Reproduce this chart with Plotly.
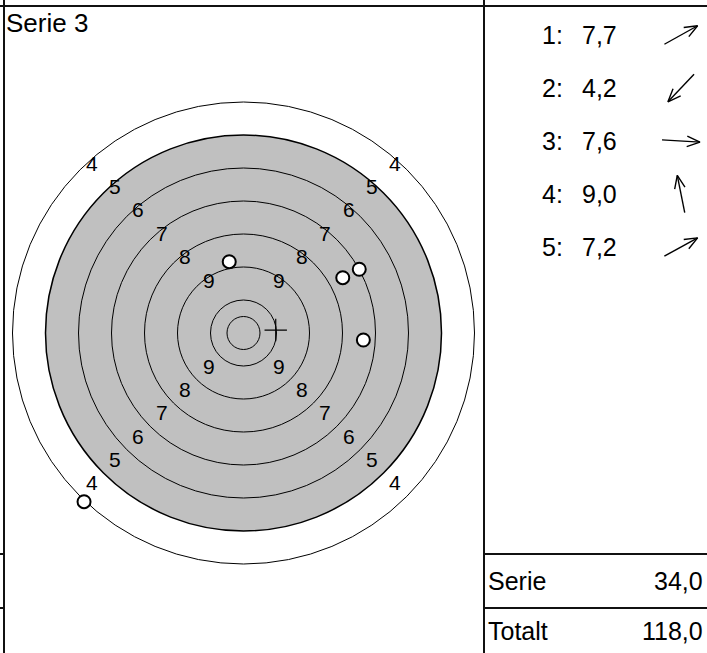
import math

import plotly.graph_objects as go

# ---- data -------------------------------------------------------------
SERIES_TITLE = "Serie 3"
SHOT_X = [75.2, -120.8, 90.8, -10.8, 87.7]   # mm, target centre = 0
SHOT_Y = [41.9, -127.8, -5.3, 54.0, 48.3]
SHOT_SCORES = ["7,7", "4,2", "7,6", "9,0", "7,2"]
RING_RADII = [175, 150, 125, 100, 75, 50, 25, 12.5]   # rings 4..10, inner ten
RING_LABELS = [4, 5, 6, 7, 8, 9]
BLACK_RADIUS = 150
SUMMARY_LABELS = ["Serie", "Totalt"]
SUMMARY_VALUES = ["34,0", "118,0"]

W, H = 707, 653
SCALE = 1.32            # px per mm
CX, CY = 243.5, 333     # target centre in px
FONT = "Liberation Sans, Arial, sans-serif"


def px(x):
    return x / W


def py(y):
    return 1 - y / H


fig = go.Figure()

# target rings
shapes = []
for r in RING_RADII:
    if r == RING_RADII[0]:
        fill = "white"
    elif r == BLACK_RADIUS:
        fill = "#c0c0c0"
    else:
        fill = "rgba(0,0,0,0)"
    shapes.append(dict(type="circle", xref="x", yref="y", x0=-r, x1=r, y0=-r, y1=r,
                       fillcolor=fill, line=dict(color="black",
                                                 width=1.5 if r == BLACK_RADIUS else 1),
                       layer="below"))

# table grid
line = dict(color="#111111", width=2)
shapes += [
    dict(type="line", xref="paper", yref="paper", x0=0, x1=1, y0=py(6), y1=py(6), line=line),
    dict(type="line", xref="paper", yref="paper", x0=px(4), x1=px(4), y0=0, y1=1, line=line),
    dict(type="line", xref="paper", yref="paper", x0=px(484), x1=px(484), y0=0, y1=1, line=line),
]
for yy in (554, 608):
    shapes.append(dict(type="line", xref="paper", yref="paper", x0=0, x1=px(4),
                       y0=py(yy), y1=py(yy), line=line))
    shapes.append(dict(type="line", xref="paper", yref="paper", x0=px(484), x1=1,
                       y0=py(yy), y1=py(yy), line=line))

annotations = []
# ring numbers on the diagonals
for k in RING_LABELS:
    idx = k - 4
    mid = (RING_RADII[idx] + RING_RADII[idx + 1]) / 2
    d = mid / math.sqrt(2)
    for sx in (-1, 1):
        for sy in (-1, 1):
            annotations.append(dict(x=sx * d, y=sy * d, xref="x", yref="y", text=str(k),
                                    showarrow=False, yshift=18 if sy > 0 else 2,
                                    font=dict(size=21, color="black", family=FONT)))

annotations.append(dict(x=px(4), y=py(23), xref="paper", yref="paper", text=SERIES_TITLE,
                        xanchor="left", yanchor="middle", showarrow=False,
                        font=dict(size=26, color="black", family=FONT)))

row_y = [35 + 53 * i for i in range(len(SHOT_SCORES))]
for i, (s, ry) in enumerate(zip(SHOT_SCORES, row_y)):
    annotations.append(dict(x=px(540), y=py(ry), xref="paper", yref="paper", text=f"{i + 1}:",
                            xanchor="left", yanchor="middle", showarrow=False,
                            font=dict(size=25, color="black", family=FONT)))
    annotations.append(dict(x=px(580), y=py(ry), xref="paper", yref="paper", text=s,
                            xanchor="left", yanchor="middle", showarrow=False,
                            font=dict(size=25, color="black", family=FONT)))

for lab, val, ry in zip(SUMMARY_LABELS, SUMMARY_VALUES, (581, 631)):
    annotations.append(dict(x=px(486), y=py(ry), xref="paper", yref="paper", text=lab,
                            xanchor="left", yanchor="middle", showarrow=False,
                            font=dict(size=25, color="black", family=FONT)))
    annotations.append(dict(x=px(705), y=py(ry), xref="paper", yref="paper", text=val,
                            xanchor="right", yanchor="middle", showarrow=False,
                            font=dict(size=25, color="black", family=FONT)))

# shots
fig.add_trace(go.Scatter(x=SHOT_X, y=SHOT_Y, mode="markers", hoverinfo="skip",
                         marker=dict(size=13, color="white", line=dict(color="black", width=2))))

# group centre cross
mx = sum(SHOT_X) / len(SHOT_X)
my = sum(SHOT_Y) / len(SHOT_Y)
fig.add_trace(go.Scatter(x=[mx], y=[my], mode="markers", hoverinfo="skip",
                         marker=dict(symbol="cross-thin", size=16, line=dict(color="black", width=1.2))))

# direction arrows in the table (pixel axes)
ax, ay = [], []
L, HEAD, SPREAD = 38, 14, math.radians(22)
for sx, sy, ry in zip(SHOT_X, SHOT_Y, row_y):
    a = math.atan2(sy, sx)
    cx, cy = 681, ry
    tx, ty = cx + L / 2 * math.cos(a), cy - L / 2 * math.sin(a)
    bx, by = cx - L / 2 * math.cos(a), cy + L / 2 * math.sin(a)
    h1x, h1y = tx - HEAD * math.cos(a - SPREAD), ty + HEAD * math.sin(a - SPREAD)
    h2x, h2y = tx - HEAD * math.cos(a + SPREAD), ty + HEAD * math.sin(a + SPREAD)
    ax += [bx, tx, None, h1x, tx, h2x, None]
    ay += [by, ty, None, h1y, ty, h2y, None]
fig.add_trace(go.Scatter(x=ax, y=ay, mode="lines", xaxis="x2", yaxis="y2", hoverinfo="skip",
                         line=dict(color="black", width=1.4)))

fig.update_layout(
    width=W, height=H,
    margin=dict(l=0, r=0, t=0, b=0),
    paper_bgcolor="white", plot_bgcolor="white",
    showlegend=False,
    shapes=shapes, annotations=annotations,
    xaxis=dict(range=[-CX / SCALE, (W - CX) / SCALE], visible=False, fixedrange=True),
    yaxis=dict(range=[-(H - CY) / SCALE, CY / SCALE], visible=False, fixedrange=True),
    xaxis2=dict(range=[0, W], visible=False, overlaying="x", fixedrange=True),
    yaxis2=dict(range=[H, 0], visible=False, overlaying="y", fixedrange=True),
)

fig.write_html("out.html", config={"displayModeBar": False},
               post_script="document.body.style.margin='0';document.body.style.overflow='hidden';")
